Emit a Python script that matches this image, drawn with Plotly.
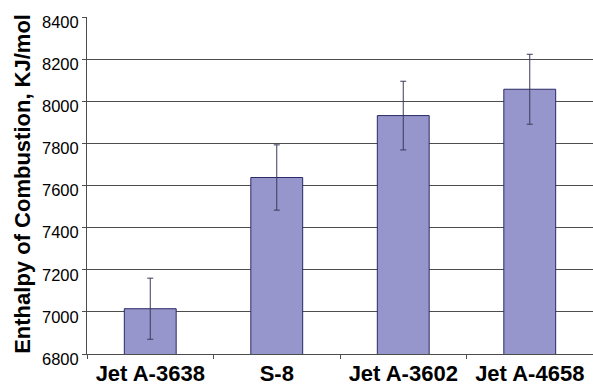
import plotly.graph_objects as go

# Fuel samples and measured enthalpy of combustion (kJ/mol) with error ranges
fuels = ["Jet A-3638", "S-8", "Jet A-3602", "Jet A-4658"]
enthalpy = [7015, 7638, 7932, 8057]
error = [145, 155, 163, 166]

y_ticks = [6800, 7000, 7200, 7400, 7600, 7800, 8000, 8200, 8400]

fig = go.Figure()
fig.add_trace(go.Bar(
    x=fuels,
    y=enthalpy,
    width=0.41,
    marker=dict(color="#9696CC", line=dict(color="#2a2a66", width=1)),
    error_y=dict(type="data", array=error, visible=True,
                 color="#3a3a5a", thickness=1, width=3),
))

fig.update_layout(
    width=593, height=387,
    margin=dict(l=87, r=0, t=17, b=33),
    paper_bgcolor="white", plot_bgcolor="white",
    showlegend=False,
    font=dict(family="Liberation Sans, Arial, sans-serif", color="black"),
    bargap=0.59,
)
fig.update_yaxes(
    range=[6800, 8400],
    tickvals=y_ticks,
    ticktext=[str(v) for v in y_ticks],
    tickfont=dict(size=16.5),
    showgrid=True, gridcolor="#4d4d4d", gridwidth=1,
    showline=True, linecolor="#4d4d4d", linewidth=1,
    ticks="outside", ticklen=4, tickcolor="#4d4d4d",
    ticklabelshift=5, ticklabelstandoff=0,
    zeroline=False,
)
fig.update_xaxes(
    tickfont=dict(size=22, family="Liberation Sans, Arial, sans-serif"),
    tickprefix="<b>", ticksuffix="</b>",
    showline=True, linecolor="#4d4d4d", linewidth=1,
    ticks="outside", ticklen=4, tickcolor="#4d4d4d",
    tickson="boundaries",
    showgrid=False,
)
fig.add_annotation(
    text="<b>Enthalpy of Combustion, KJ/mol</b>",
    textangle=-90,
    xref="paper", yref="paper",
    x=-(87 - 23) / 506, y=0.505,
    xanchor="center", yanchor="middle",
    showarrow=False,
    font=dict(size=22, family="Liberation Sans, Arial, sans-serif", color="black"),
)

fig.write_html("out.html")
